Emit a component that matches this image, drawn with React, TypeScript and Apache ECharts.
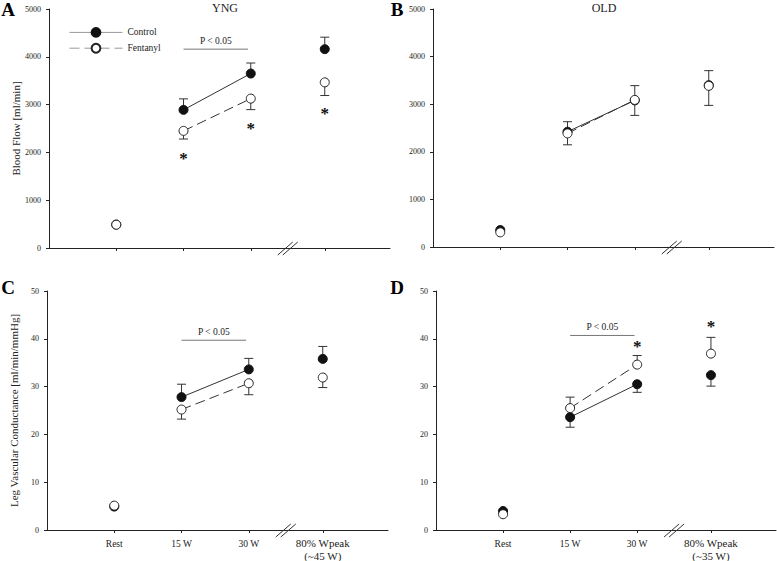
import React, { useEffect, useRef } from 'react';
import * as echarts from 'echarts';

const FONT = 'Liberation Serif';
const INK = '#222';

// x positions of the four conditions (80% Wpeak sits after the axis break)
const categoryX = [1, 2, 3, 4.1];
const categoryLabels = ['Rest', '15 W', '30 W', '80% Wpeak'];
const peakLoadYng = '(~45 W)';
const peakLoadOld = '(~35 W)';
const breakX = 3.55;

// Blood flow [ml/min]
const bfYngControl = [490, 2890, 3650, 4160];
const bfYngControlSE = [0, 230, 220, 250];
const bfYngFentanyl = [487, 2450, 3125, 3465];
const bfYngFentanylSE = [0, 170, 230, 275];
const bfOldControl = [357, 2422, 3080, 3400];
const bfOldControlSE = [0, 210, 310, 305];
const bfOldFentanyl = [308, 2387, 3090, 3385];
const bfOldFentanylSE = [0, 240, 325, 410];

// Leg vascular conductance [ml/min/mmHg]
const lvcYngControl = [4.9, 27.8, 33.6, 35.8];
const lvcYngControlSE = [0, 2.7, 2.3, 2.6];
const lvcYngFentanyl = [5.1, 25.2, 30.7, 31.9];
const lvcYngFentanylSE = [0, 2.0, 2.4, 2.1];
const lvcOldControl = [3.97, 23.6, 30.5, 32.4];
const lvcOldControlSE = [0, 2.1, 1.7, 2.3];
const lvcOldFentanyl = [3.3, 25.5, 34.6, 36.9];
const lvcOldFentanylSE = [0, 2.3, 1.9, 3.4];

// significance stars (condition index, y value)
const starsYngBfIdx = [1, 2, 3];
const starsYngBfY = [1950, 2580, 2890];
const starsOldLvcIdx = [2, 3];
const starsOldLvcY = [39.2, 43.4];

// "P < 0.05" bars (15 W -> 30 W)
const pBarYngBf = 4160;
const pBarYngLvc = 39.7;
const pBarOldLvc = 40.7;

type Dir = 'up' | 'down';
interface Panel {
  grid: { left: number; top: number; width: number; height: number };
  yMax: number;
  yInterval: number;
  yName: string;
  showXLabels: boolean;
  peakLoad: string;
  ctrl: (number | null)[];
  ctrlSE: number[];
  ctrlDir: Dir;
  fen: (number | null)[];
  fenSE: number[];
  fenDir: Dir;
  starsIdx: number[];
  starsY: number[];
  pBar: number | null;
}

const panels: Panel[] = [
  {
    grid: { left: 49, top: 9, width: 341, height: 239 },
    yMax: 5000, yInterval: 1000, yName: 'Blood Flow [ml/min]', showXLabels: false, peakLoad: peakLoadYng,
    ctrl: bfYngControl, ctrlSE: bfYngControlSE, ctrlDir: 'up',
    fen: bfYngFentanyl, fenSE: bfYngFentanylSE, fenDir: 'down',
    starsIdx: starsYngBfIdx, starsY: starsYngBfY, pBar: pBarYngBf,
  },
  {
    grid: { left: 433, top: 9, width: 341, height: 238 },
    yMax: 5000, yInterval: 1000, yName: '', showXLabels: false, peakLoad: peakLoadOld,
    ctrl: bfOldControl, ctrlSE: bfOldControlSE, ctrlDir: 'up',
    fen: bfOldFentanyl, fenSE: bfOldFentanylSE, fenDir: 'down',
    starsIdx: [], starsY: [], pBar: null,
  },
  {
    grid: { left: 47, top: 291, width: 341, height: 239 },
    yMax: 50, yInterval: 10, yName: 'Leg Vascular Conductance [ml/min/mmHg]', showXLabels: true, peakLoad: peakLoadYng,
    ctrl: lvcYngControl, ctrlSE: lvcYngControlSE, ctrlDir: 'up',
    fen: lvcYngFentanyl, fenSE: lvcYngFentanylSE, fenDir: 'down',
    starsIdx: [], starsY: [], pBar: pBarYngLvc,
  },
  {
    grid: { left: 436, top: 291, width: 340, height: 239 },
    yMax: 50, yInterval: 10, yName: '', showXLabels: true, peakLoad: peakLoadOld,
    ctrl: lvcOldControl, ctrlSE: lvcOldControlSE, ctrlDir: 'down',
    fen: lvcOldFentanyl, fenSE: lvcOldFentanylSE, fenDir: 'up',
    starsIdx: starsOldLvcIdx, starsY: starsOldLvcY, pBar: pBarOldLvc,
  },
];

const errorBarRender = (params: any, api: any) => {
  const x = api.value(0);
  const y = api.value(1);
  const lo = api.value(2);
  const hi = api.value(3);
  const pLo = api.coord([x, lo]);
  const pHi = api.coord([x, hi]);
  const w = 4.5;
  const style = { stroke: '#333', lineWidth: 1 };
  const children: any[] = [
    { type: 'line', shape: { x1: pLo[0], y1: pLo[1], x2: pHi[0], y2: pHi[1] }, style },
  ];
  if (hi > y) children.push({ type: 'line', shape: { x1: pHi[0] - w, y1: pHi[1], x2: pHi[0] + w, y2: pHi[1] }, style });
  if (lo < y) children.push({ type: 'line', shape: { x1: pLo[0] - w, y1: pLo[1], x2: pLo[0] + w, y2: pLo[1] }, style });
  return { type: 'group', children };
};

const breakRender = (params: any, api: any) => {
  const p = api.coord([api.value(0), api.value(1)]);
  const style = { stroke: '#333', lineWidth: 1 };
  return {
    type: 'group',
    children: [
      { type: 'line', shape: { x1: p[0] - 10, y1: p[1] + 7, x2: p[0] + 5, y2: p[1] - 6 }, style },
      { type: 'line', shape: { x1: p[0] - 5, y1: p[1] + 7, x2: p[0] + 10, y2: p[1] - 6 }, style },
    ],
  };
};

function errData(vals: (number | null)[], se: number[], dir: Dir) {
  const out: number[][] = [];
  categoryX.forEach((x, i) => {
    const v = vals[i];
    if (v == null || !se[i]) return;
    out.push(dir === 'up' ? [x, v, v, v + se[i]] : [x, v, v - se[i], v]);
  });
  return out;
}

const ctrlItem = { color: '#111', borderColor: '#111', borderWidth: 1, opacity: 1 };
const fenItem = { color: '#fff', borderColor: '#222', borderWidth: 1, opacity: 1 };
const ctrlLine = { color: '#333', width: 1, type: 'solid' };
const fenLine = { color: '#333', width: 1, type: [10, 5] };
const hiddenItem = { color: 'rgba(0,0,0,0)', opacity: 1 };

function buildOption() {
  const grid: any[] = [];
  const xAxis: any[] = [];
  const yAxis: any[] = [];
  const series: any[] = [];

  panels.forEach((p, g) => {
    grid.push({ ...p.grid, containLabel: false, outerBoundsMode: 'none' });
    xAxis.push({
      type: 'value', gridIndex: g, min: 0, max: 5.07,
      axisLine: { show: true, onZero: false, lineStyle: { color: INK, width: 1 } },
      splitLine: { show: false },
      axisTick: { show: true, customValues: categoryX, length: 3, inside: false, lineStyle: { color: INK } },
      axisLabel: {
        show: p.showXLabels, customValues: categoryX, margin: 6,
        fontFamily: FONT, fontSize: 9.5, color: INK,
        formatter: (v: number) => {
          const i = categoryX.findIndex((c) => Math.abs(c - v) < 1e-6);
          if (i < 0) return '';
          if (i === 3) return `{pk|${categoryLabels[3]}}\n{pk|${p.peakLoad}}`;
          return `{n|${categoryLabels[i]}}`;
        },
        rich: {
          n: { fontFamily: FONT, fontSize: 9.5, color: INK, lineHeight: 16 },
          pk: { fontFamily: FONT, fontSize: 11, color: INK, lineHeight: 13, align: 'center' },
        },
      },
    });
    yAxis.push({
      type: 'value', gridIndex: g, min: 0, max: p.yMax, interval: p.yInterval,
      axisLine: { show: true, lineStyle: { color: INK, width: 1 } },
      axisTick: { show: true, length: 3, inside: false, lineStyle: { color: INK } },
      splitLine: { show: false },
      axisLabel: { fontFamily: FONT, fontSize: 8, color: INK, margin: 8, formatter: (v: number) => String(v) },
      name: p.yName, nameLocation: 'middle', nameGap: 28, nameRotate: 90,
      nameTextStyle: { fontFamily: FONT, fontSize: 11, color: INK },
    });

    // error bars
    series.push({ type: 'custom', name: 'errC' + g, xAxisIndex: g, yAxisIndex: g, renderItem: errorBarRender,
      data: errData(p.ctrl, p.ctrlSE, p.ctrlDir), encode: { x: 0, y: [1, 2, 3] }, z: 1, silent: true });
    series.push({ type: 'custom', name: 'errF' + g, xAxisIndex: g, yAxisIndex: g, renderItem: errorBarRender,
      data: errData(p.fen, p.fenSE, p.fenDir), encode: { x: 0, y: [1, 2, 3] }, z: 1, silent: true });

    // connected exercise points (15 W - 30 W)
    series.push({ type: 'line', name: 'Control', xAxisIndex: g, yAxisIndex: g,
      data: [1, 2].map((i) => [categoryX[i], p.ctrl[i]]), symbol: 'circle', symbolSize: 9,
      itemStyle: ctrlItem, lineStyle: ctrlLine, z: 3, silent: true });
    series.push({ type: 'line', name: 'Fentanyl', xAxisIndex: g, yAxisIndex: g,
      data: [1, 2].map((i) => [categoryX[i], p.fen[i]]), symbol: 'circle', symbolSize: 9,
      itemStyle: fenItem, lineStyle: fenLine, z: 4, silent: true });
    // isolated points (Rest, 80% Wpeak)
    series.push({ type: 'scatter', name: 'Control', xAxisIndex: g, yAxisIndex: g,
      data: [0, 3].filter((i) => p.ctrl[i] != null).map((i) => [categoryX[i], p.ctrl[i]]),
      symbol: 'circle', symbolSize: 9, itemStyle: ctrlItem, z: 3, silent: true });
    series.push({ type: 'scatter', name: 'Fentanyl', xAxisIndex: g, yAxisIndex: g,
      data: [0, 3].filter((i) => p.fen[i] != null).map((i) => [categoryX[i], p.fen[i]]),
      symbol: 'circle', symbolSize: 9, itemStyle: fenItem, z: 4, silent: true });

    // stars
    if (p.starsIdx.length) {
      series.push({ type: 'scatter', name: 'stars' + g, xAxisIndex: g, yAxisIndex: g,
        data: p.starsIdx.map((i, k) => [categoryX[i], p.starsY[k]]),
        symbol: 'circle', symbolSize: 1, itemStyle: hiddenItem, z: 5, silent: true,
        label: { show: true, position: 'inside', formatter: '*', fontFamily: FONT, fontSize: 17,
          fontWeight: 'bold', color: '#111', offset: [0, 4] } });
    }
    // P < 0.05 bar
    if (p.pBar != null) {
      series.push({ type: 'line', name: 'pbar' + g, xAxisIndex: g, yAxisIndex: g,
        data: [[2, p.pBar], [2.96, p.pBar]], symbol: 'none', lineStyle: { color: '#777', width: 1 }, z: 2, silent: true });
      series.push({ type: 'scatter', name: 'ptext' + g, xAxisIndex: g, yAxisIndex: g,
        data: [[2.48, p.pBar]], symbol: 'circle', symbolSize: 1, itemStyle: hiddenItem, z: 5, silent: true,
        label: { show: true, position: 'top', distance: 3, formatter: 'P < 0.05', fontFamily: FONT, fontSize: 9.5, color: INK } });
    }
    // axis break
    series.push({ type: 'custom', name: 'break' + g, xAxisIndex: g, yAxisIndex: g, renderItem: breakRender,
      data: [[breakX, 0]], encode: { x: 0, y: 1 }, z: 2, silent: true, clip: false });
  });

  const letter = (t: string, x: number, y: number) => ({
    type: 'text', x, y, style: { text: t, font: `bold 19px ${FONT}`, fill: '#000', textAlign: 'center', textVerticalAlign: 'middle' },
  });
  const title = (t: string, x: number, y: number) => ({
    type: 'text', x, y, style: { text: t, font: `12px ${FONT}`, fill: INK, textAlign: 'center', textVerticalAlign: 'middle' },
  });

  return {
    animation: false,
    backgroundColor: '#fff',
    grid, xAxis, yAxis, series,
    legend: {
      data: ['Control', 'Fentanyl'], orient: 'vertical', left: 64, top: 22,
      itemWidth: 53, itemHeight: 11, itemGap: 5, selectedMode: false,
      lineStyle: { color: '#999', width: 1 },
      textStyle: { fontFamily: FONT, fontSize: 9.5, color: INK },
    },
    graphic: [
      letter('A', 8, 9), letter('B', 397, 9), letter('C', 8, 287), letter('D', 397, 287),
      title('YNG', 225, 8), title('OLD', 604, 8),
    ],
  };
}

export default function App() {
  const ref = useRef<HTMLDivElement>(null);
  useEffect(() => {
    if (!ref.current) return;
    const chart = echarts.init(ref.current, undefined, { renderer: 'svg' });
    chart.setOption(buildOption() as any);
    return () => chart.dispose();
  }, []);
  return <div ref={ref} style={{ position: 'absolute', left: 0, top: 0, width: 777, height: 561 }} />;
}
